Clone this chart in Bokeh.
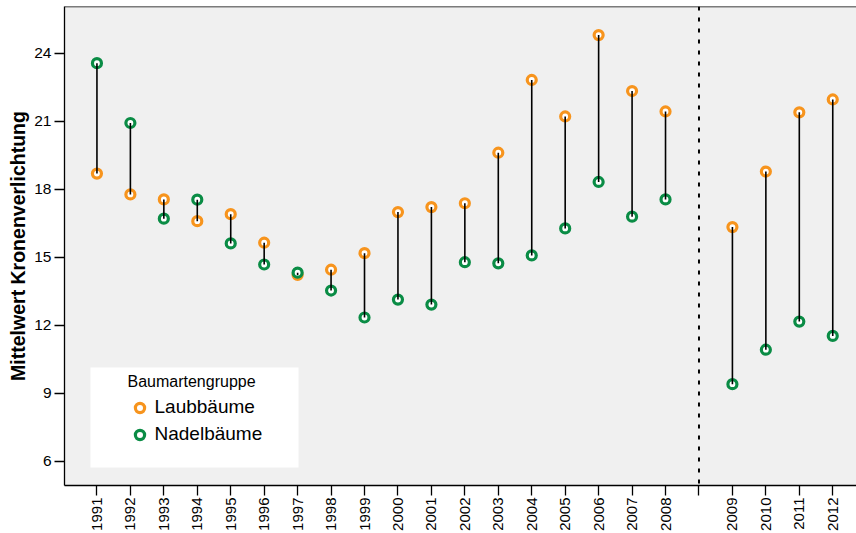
from bokeh.plotting import figure
from bokeh.models import (ColumnDataSource, Range1d, FixedTicker, Span,
                          BoxAnnotation, Legend, LegendItem)
from bokeh.embed import file_html
from bokeh.resources import INLINE
from math import pi

# Survey years, split into two periods (a blank slot separates them on the axis)
years_early = ["1991", "1992", "1993", "1994", "1995", "1996", "1997", "1998",
               "1999", "2000", "2001", "2002", "2003", "2004", "2005", "2006",
               "2007", "2008"]
years_late = ["2009", "2010", "2011", "2012"]

# Mean crown defoliation (%) per tree group
laub = [18.70, 17.78, 17.56, 16.60, 16.91, 15.65, 14.23, 14.46, 15.19, 17.00,
        17.22, 17.39, 19.62, 22.83, 21.22, 24.81, 22.34, 21.44,
        16.34, 18.79, 21.40, 21.97]
nadel = [23.57, 20.93, 16.71, 17.55, 15.62, 14.69, 14.33, 13.54, 12.35, 13.14,
         12.92, 14.79, 14.74, 15.09, 16.28, 18.33, 16.80, 17.56,
         9.41, 10.93, 12.17, 11.54]

y_ticks = [6, 9, 12, 15, 18, 21, 24]

ORANGE = "#f7941d"
GREEN = "#0a8c45"
FONT = "Liberation Sans"

slots = years_early + [""] + years_late
years = years_early + years_late
x = [slots.index(y) for y in years]

src = ColumnDataSource(dict(x=x, year=years, laub=laub, nadel=nadel))

p = figure(width=856, height=533, output_backend="svg", toolbar_location=None,
           x_range=Range1d(-0.97, 22.71), y_range=Range1d(4.94, 26.07),
           min_border_left=64, min_border_right=0, min_border_top=6,
           min_border_bottom=48,
           background_fill_color="#f0f0f0", border_fill_color="white",
           outline_line_color=None)
p.grid.visible = False

# top edge of the plotting area (left and bottom edges are the axis lines)
p.add_layout(Span(location=p.y_range.end, dimension="width",
                  line_color="black", line_width=1.3))

# x axis: one tick per slot, labels rotated
p.xaxis.ticker = FixedTicker(ticks=list(range(len(slots))))
p.xaxis.major_label_overrides = {i: s for i, s in enumerate(slots)}
p.xaxis.major_label_orientation = pi / 2

# y axis
p.yaxis.ticker = FixedTicker(ticks=y_ticks)
p.yaxis.axis_label = "Mittelwert Kronenverlichtung"
p.yaxis.axis_label_text_font_style = "bold"
p.yaxis.axis_label_text_font_size = "19.5px"
p.yaxis.axis_label_text_font = FONT
p.yaxis.axis_label_text_color = "black"
p.yaxis.axis_label_standoff = 2

for ax in (p.xaxis, p.yaxis):
    ax.axis_line_color = "black"
    ax.axis_line_width = 1.3
    ax.major_tick_line_color = "black"
    ax.major_tick_line_width = 1.3
    ax.major_tick_in = 0
    ax.major_tick_out = 10
    ax.minor_tick_line_color = None
    ax.major_label_text_font = FONT
    ax.major_label_text_color = "black"
p.xaxis.major_label_text_font_size = "15px"
p.xaxis.major_label_standoff = 2
p.yaxis.major_label_text_font_size = "15.5px"
p.yaxis.major_label_standoff = 3

# separator between the two survey periods
p.add_layout(Span(location=slots.index(""), dimension="height",
                  line_color="black", line_width=2, line_dash="4 7"))

# markers, then the connecting range lines on top
r_laub = p.scatter("x", "laub", source=src, size=9, fill_color="white",
                   line_color=ORANGE, line_width=3.2)
r_nadel = p.scatter("x", "nadel", source=src, size=9, fill_color="white",
                    line_color=GREEN, line_width=3.2)
p.segment(x0="x", y0="laub", x1="x", y1="nadel", source=src,
          line_color="black", line_width=1.6)

# legend panel
p.add_layout(BoxAnnotation(left=26, right=234, bottom=18, top=118,
                           left_units="screen", right_units="screen",
                           bottom_units="screen", top_units="screen",
                           fill_color="white", fill_alpha=1.0,
                           line_color=None))

legend = Legend(
    items=[LegendItem(label="Laubbäume", renderers=[r_laub]),
           LegendItem(label="Nadelbäume", renderers=[r_nadel])],
    title="Baumartengruppe",
    location=(63.5, 39.5), margin=0, padding=6, spacing=4,
    glyph_width=23, glyph_height=23, label_standoff=4, label_height=20,
    label_text_font=FONT, label_text_font_size="19px", label_text_color="black",
    title_text_font=FONT, title_text_font_size="16px",
    title_text_font_style="normal", title_text_color="black", title_standoff=5,
    background_fill_alpha=0, border_line_color=None)
p.add_layout(legend)

open("out.html", "w").write(file_html(p, INLINE))
